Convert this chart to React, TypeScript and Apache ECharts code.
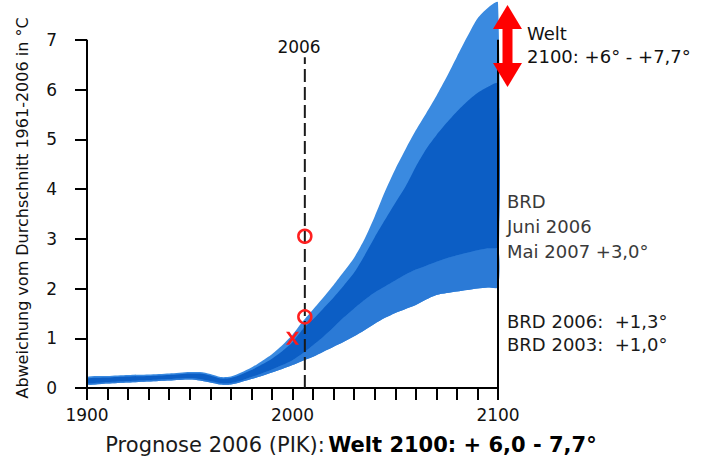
import React, { useEffect, useRef } from "react";
import * as echarts from "echarts";

const years = [
  1900, 1910, 1920, 1930, 1940, 1950, 1955, 1960, 1965, 1970, 1975, 1980, 1985, 1990, 1995, 2000,
  2005, 2010, 2015, 2020, 2025, 2030, 2035, 2040, 2045, 2050, 2055, 2060, 2065, 2070, 2075, 2080,
  2085, 2090, 2095, 2100,
];
const outerLow = [
  0.07, 0.09, 0.11, 0.13, 0.15, 0.17, 0.15, 0.11, 0.07, 0.07, 0.12, 0.18, 0.24, 0.31, 0.38, 0.46,
  0.55, 0.63, 0.73, 0.83, 0.93, 1.04, 1.16, 1.29, 1.41, 1.51, 1.59, 1.67, 1.78, 1.87, 1.91, 1.94,
  1.97, 2.0, 2.02, 2.03,
];
const darkLow = [
  0.1, 0.12, 0.14, 0.16, 0.18, 0.2, 0.18, 0.14, 0.1, 0.1, 0.15, 0.22, 0.29, 0.37, 0.46, 0.56,
  0.7, 0.86, 1.03, 1.22, 1.42, 1.6, 1.77, 1.92, 2.04, 2.16, 2.28, 2.38, 2.46, 2.54, 2.61, 2.67,
  2.72, 2.77, 2.81, 2.84,
];
const darkHigh = [
  0.19, 0.21, 0.23, 0.24, 0.26, 0.29, 0.29, 0.25, 0.19, 0.2, 0.27, 0.36, 0.47, 0.59, 0.74, 0.92,
  1.18, 1.38, 1.6, 1.82, 2.06, 2.32, 2.66, 3.03, 3.38, 3.72, 4.05, 4.45, 4.8, 5.08, 5.33, 5.56,
  5.76, 5.93, 6.05, 6.12,
];
const outerHigh = [
  0.22, 0.24, 0.26, 0.27, 0.29, 0.32, 0.32, 0.28, 0.22, 0.23, 0.31, 0.41, 0.54, 0.68, 0.86, 1.07,
  1.34, 1.58, 1.82, 2.07, 2.34, 2.62, 2.99, 3.45, 3.95, 4.4, 4.8, 5.18, 5.52, 5.87, 6.25, 6.66,
  7.06, 7.43, 7.64, 7.75,
];

const markerCircles = [
  [2006, 3.05],
  [2006, 1.43],
];
const markerCross = [[2000, 1.0]];
const arrowRange = [[2100, 6.05, 7.7]];
const frameLines = [
  [1900, 0, 7],
  [2100, 0, 7],
];
const line2006 = [[2006, 0, 6.65]];
const xLabelYears = [1900, 2000, 2100];
const yTicks = [0, 1, 2, 3, 4, 5, 6, 7];

const FONT = "DejaVu Sans";

export default function App() {
  const ref = useRef<HTMLDivElement>(null);
  useEffect(() => {
    const chart = echarts.init(ref.current!, null, { renderer: "svg" });

    const bandSeries = (lower: number[], upper: number[], color: string, z: number) => ({
      type: "custom",
      data: [[2000, 1]],
      silent: true,
      z,
      renderItem: (_p: any, api: any) => {
        const points: number[][] = [];
        for (let i = 0; i < years.length; i++) points.push(api.coord([years[i], lower[i]]));
        for (let i = years.length - 1; i >= 0; i--) points.push(api.coord([years[i], upper[i]]));
        return {
          type: "polygon",
          shape: { points, smooth: 0.25 },
          style: { fill: color },
        };
      },
    });

    chart.setOption({
      animation: false,
      textStyle: { fontFamily: FONT },
      grid: { left: 87, right: 213, top: 0, bottom: 74, outerBoundsMode: "none" },
      xAxis: {
        type: "value",
        min: 1900,
        max: 2100,
        interval: 10,
        splitLine: { show: false },
        axisLine: { show: true, lineStyle: { color: "#000", width: 2 } },
        axisTick: { show: true, length: 12, lineStyle: { color: "#000", width: 2 } },
        axisLabel: {
          customValues: xLabelYears,
          formatter: (v: number) => String(v),
          fontSize: 17,
          color: "#111",
          margin: 18,
          fontFamily: FONT,
        },
      },
      yAxis: {
        type: "value",
        min: 0,
        max: 7.8,
        splitLine: { show: false },
        axisLine: { show: false },
        axisTick: {
          show: true,
          length: 12,
          customValues: yTicks,
          lineStyle: { color: "#000", width: 2 },
        },
        axisLabel: {
          customValues: yTicks,
          formatter: (v: number) => String(v),
          fontSize: 17,
          color: "#111",
          margin: 30,
          fontFamily: FONT,
        },
      },
      series: [
        bandSeries(outerLow, outerHigh, "#3a8ae0", 1),
        bandSeries(outerLow, darkLow, "#2b7ad6", 2),
        bandSeries(darkLow, darkHigh, "#0c5ec5", 3),
        {
          type: "custom",
          data: frameLines,
          z: 5,
          silent: true,
          renderItem: (_p: any, api: any) => {
            const a = api.coord([api.value(0), api.value(1)]);
            const b = api.coord([api.value(0), api.value(2)]);
            return {
              type: "line",
              shape: { x1: a[0], y1: a[1], x2: b[0], y2: b[1] },
              style: { stroke: "#000", lineWidth: 2 },
            };
          },
        },
        {
          type: "custom",
          data: line2006,
          z: 5,
          silent: true,
          renderItem: (_p: any, api: any) => {
            const a = api.coord([api.value(0), api.value(1)]);
            const b = api.coord([api.value(0), api.value(2)]);
            return {
              type: "line",
              shape: { x1: a[0], y1: a[1], x2: b[0], y2: b[1] },
              style: { stroke: "#1a1a1a", lineWidth: 2, lineDash: [13, 5] },
            };
          },
        },
        {
          type: "custom",
          data: arrowRange,
          z: 6,
          silent: true,
          renderItem: (_p: any, api: any) => {
            const top = api.coord([api.value(0), api.value(2)]);
            const bot = api.coord([api.value(0), api.value(1)]);
            const x = top[0] + 9.5;
            const hw = 14.5;
            const hh = 24;
            const sw = 5;
            return {
              type: "group",
              children: [
                {
                  type: "polygon",
                  shape: { points: [[x, top[1]], [x + hw, top[1] + hh], [x - hw, top[1] + hh]] },
                  style: { fill: "#ff0000" },
                },
                {
                  type: "polygon",
                  shape: { points: [[x, bot[1]], [x + hw, bot[1] - hh], [x - hw, bot[1] - hh]] },
                  style: { fill: "#ff0000" },
                },
                {
                  type: "rect",
                  shape: {
                    x: x - sw,
                    y: top[1] + hh - 1,
                    width: 2 * sw,
                    height: bot[1] - top[1] - 2 * hh + 2,
                  },
                  style: { fill: "#ff0000" },
                },
              ],
            };
          },
        },
        {
          type: "scatter",
          data: markerCircles,
          symbol: "circle",
          symbolSize: 13,
          z: 7,
          silent: true,
          itemStyle: {
            color: "rgba(255,255,255,0)",
            borderColor: "#ff2020",
            borderWidth: 2.5,
            opacity: 1,
          },
        },
        {
          type: "scatter",
          data: markerCross,
          symbol:
            "path://M0,0 L2.6,0 L5,3.4 L7.4,0 L10,0 L6.3,5 L10,10 L7.4,10 L5,6.6 L2.6,10 L0,10 L3.7,5 Z",
          symbolSize: [13, 13],
          z: 7,
          silent: true,
          itemStyle: { color: "#ff1a1a", opacity: 1 },
        },
      ],
      graphic: [
        {
          type: "text",
          x: 22,
          y: 208,
          rotation: Math.PI / 2,
          style: {
            text: "Abweichung vom Durchschnitt 1961-2006 in °C",
            fontSize: 16,
            fontFamily: FONT,
            fill: "#111",
            align: "center",
            verticalAlign: "middle",
          },
        },
        {
          type: "text",
          x: 299,
          y: 47,
          style: {
            text: "2006",
            fontSize: 17,
            fontFamily: FONT,
            fill: "#111",
            align: "center",
            verticalAlign: "middle",
          },
        },
        {
          type: "text",
          x: 527,
          y: 33,
          style: { text: "Welt", fontSize: 18, fontFamily: FONT, fill: "#111", verticalAlign: "middle" },
        },
        {
          type: "text",
          x: 527,
          y: 56,
          style: {
            text: "2100: +6° - +7,7°",
            fontSize: 18,
            fontFamily: FONT,
            fill: "#111",
            verticalAlign: "middle",
          },
        },
        {
          type: "text",
          x: 507,
          y: 201,
          style: { text: "BRD", fontSize: 18, fontFamily: FONT, fill: "#3a3a3a", verticalAlign: "middle" },
        },
        {
          type: "text",
          x: 507,
          y: 226,
          style: { text: "Juni 2006", fontSize: 18, fontFamily: FONT, fill: "#3a3a3a", verticalAlign: "middle" },
        },
        {
          type: "text",
          x: 507,
          y: 251,
          style: {
            text: "Mai 2007 +3,0°",
            fontSize: 18,
            fontFamily: FONT,
            fill: "#3a3a3a",
            verticalAlign: "middle",
          },
        },
        {
          type: "text",
          x: 507,
          y: 321,
          style: {
            text: "BRD 2006:  +1,3°",
            fontSize: 18,
            fontFamily: FONT,
            fill: "#1a1a1a",
            verticalAlign: "middle",
          },
        },
        {
          type: "text",
          x: 507,
          y: 344,
          style: {
            text: "BRD 2003:  +1,0°",
            fontSize: 18,
            fontFamily: FONT,
            fill: "#1a1a1a",
            verticalAlign: "middle",
          },
        },
        {
          type: "text",
          x: 351,
          y: 445,
          style: {
            text: "{a|Prognose 2006 (PIK):} {b|Welt 2100: + 6,0 - 7,7°}",
            align: "center",
            verticalAlign: "middle",
            rich: {
              a: { fontSize: 21, fontFamily: FONT, fill: "#1a1a1a" },
              b: { fontSize: 21, fontFamily: FONT, fontWeight: "bold", fill: "#000" },
            },
          },
        },
      ],
    });
    return () => chart.dispose();
  }, []);
  return (
    <div
      ref={ref}
      style={{ position: "fixed", left: 0, top: 0, width: 711, height: 462, background: "#fff" }}
    />
  );
}
